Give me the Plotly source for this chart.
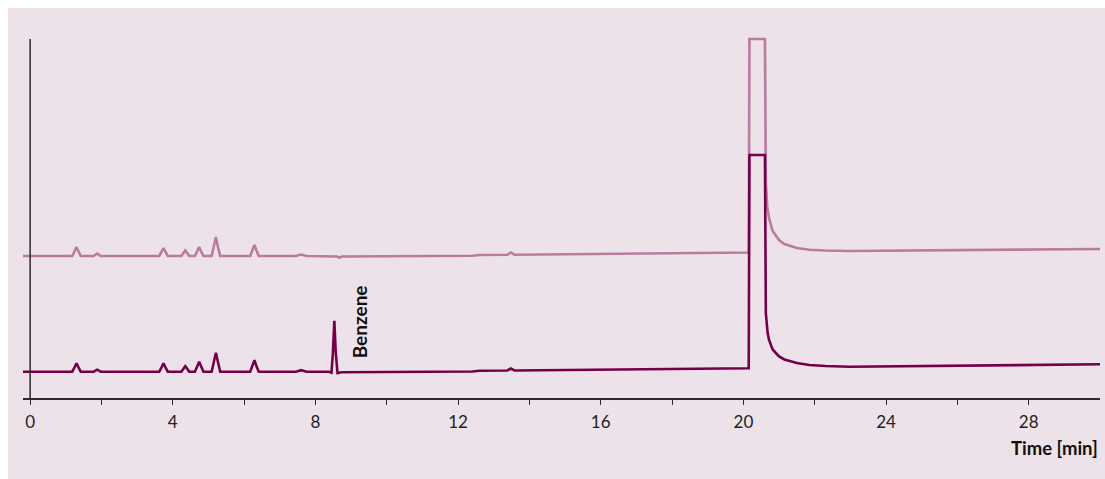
import plotly.graph_objects as go

# Upper (lighter) chromatogram: time [min], signal [a.u.]
upper_t = [-0.2, 1.18, 1.25, 1.30, 1.35, 1.42, 1.78, 1.88, 1.98, 3.62, 3.69, 3.74, 3.79, 3.86,
           4.24, 4.30, 4.35, 4.40, 4.46, 4.62, 4.69, 4.74, 4.79, 4.86, 5.09, 5.16, 5.21, 5.26, 5.33,
           6.17, 6.24, 6.29, 6.34, 6.41, 7.45, 7.60, 7.75, 8.60, 8.67, 8.75, 12.40, 12.60, 13.38,
           13.48, 13.58, 20.15, 20.17, 20.605, 20.63, 20.67, 20.72, 20.82, 21.0, 21.15, 21.5,
           21.85, 22.3, 22.97, 30.0]
upper_y = [142, 142, 147, 151, 147, 142, 142, 144.5, 142, 142, 146.5, 150, 146.5, 142,
           142, 145.2, 147.5, 145.2, 142, 142, 147, 151, 147, 142, 142, 152, 161, 152, 142,
           142, 148, 153, 148, 142, 142, 143.5, 142, 141.5, 140.5, 141.5, 142.3, 143, 143.2,
           145.5, 143.3, 145.5, 359, 359, 215, 191.3, 180, 167, 158, 154, 150,
           148.2, 147.5, 147, 149]

# Lower (dark) chromatogram
lower_t = [-0.2, 1.18, 1.25, 1.30, 1.35, 1.42, 1.78, 1.88, 1.98, 3.62, 3.69, 3.74, 3.79, 3.86,
           4.24, 4.30, 4.35, 4.40, 4.46, 4.62, 4.69, 4.74, 4.79, 4.86, 5.09, 5.16, 5.21, 5.26, 5.33,
           6.17, 6.24, 6.29, 6.34, 6.41, 7.45, 7.60, 7.75, 8.38, 8.45, 8.49, 8.53, 8.57, 8.62, 8.72,
           12.40, 12.60, 13.38, 13.48, 13.58, 20.15, 20.17, 20.605, 20.63, 20.68, 20.72, 20.82,
           21.0, 21.15, 21.5, 21.85, 22.3, 22.97, 30.0]
lower_y = [26.3, 26.3, 31, 34.8, 31, 26.3, 26.3, 28.3, 26.3, 26.3, 31, 34.8, 31, 26.3,
           26.3, 29.5, 31.8, 29.5, 26.3, 26.3, 32, 36.3, 32, 26.3, 26.3, 37, 45.3, 37, 26.3,
           26.3, 32.5, 37.8, 32.5, 26.3, 26.3, 27.8, 26.3, 26.3, 25.3, 45, 77.3, 45, 24.8, 25.7,
           26.5, 27.3, 27.5, 29.5, 27.5, 29.7, 243, 243, 85, 65, 58, 48.5,
           41.5, 38.5, 35, 33, 32, 31.3, 33.7]

tick_vals = [0, 4, 8, 12, 16, 20, 24, 28]
tick_text = ["0", "4", "8", "12", "16", "20", "24", "28"]
minor_ticks = [2, 6, 10, 14, 18, 22, 26]

benzene_label = "Benzene"
benzene_t = 9.23
benzene_y = 76
x_title = "Time [min]"

BG = "#EEE2EA"
AXIS = "#2B2B2B"
FONT = "Lato"

fig = go.Figure()
fig.add_trace(go.Scatter(x=upper_t, y=upper_y, mode="lines",
                         line=dict(color="#B97C9F", width=2.6), hoverinfo="skip"))
fig.add_trace(go.Scatter(x=lower_t, y=lower_y, mode="lines",
                         line=dict(color="#74004A", width=2.6), hoverinfo="skip"))

fig.add_annotation(x=benzene_t, y=benzene_y, text="<b>" + benzene_label + "</b>", textangle=-90,
                   showarrow=False, font=dict(family=FONT, size=19, color="#111111"),
                   xanchor="center", yanchor="middle")

fig.add_annotation(xref="paper", yref="paper", x=1.0, y=-0.1385, text="<b>" + x_title + "</b>",
                   showarrow=False, xanchor="right", yanchor="middle",
                   font=dict(family=FONT, size=18.5, color="#111111"))

# y axis line at t = 0
fig.add_shape(type="line", xref="x", yref="y", x0=0, x1=0, y0=0, y1=359,
              line=dict(color=AXIS, width=1.5))
# white outer frame (top and left)
fig.add_shape(type="rect", xref="paper", yref="paper", x0=-0.03, x1=1.01,
              y0=(398 - 8) / 361, y1=1.2, fillcolor="white", line=dict(width=0), layer="below")
fig.add_shape(type="rect", xref="paper", yref="paper", x0=-0.03, x1=(8 - 23) / 1077,
              y0=-0.3, y1=1.2, fillcolor="white", line=dict(width=0), layer="below")

fig.update_layout(
    width=1105, height=479,
    margin=dict(l=23, r=5, t=37, b=81),
    paper_bgcolor=BG, plot_bgcolor=BG,
    showlegend=False,
    xaxis=dict(range=[-0.2, 30], showgrid=False, zeroline=False, showline=True,
               linecolor=AXIS, linewidth=1.5, ticks="outside", ticklen=5, tickwidth=1.3,
               tickcolor=AXIS, tickvals=tick_vals, ticktext=tick_text,
               tickfont=dict(family=FONT, size=17, color="#222222"),
               ticklabelstandoff=3,
               minor=dict(tickvals=minor_ticks, ticks="outside", ticklen=5,
                          tickwidth=1.3, tickcolor=AXIS, showgrid=False)),
    yaxis=dict(range=[0, 361], visible=False, showgrid=False, zeroline=False),
)

fig.write_html("out.html")
